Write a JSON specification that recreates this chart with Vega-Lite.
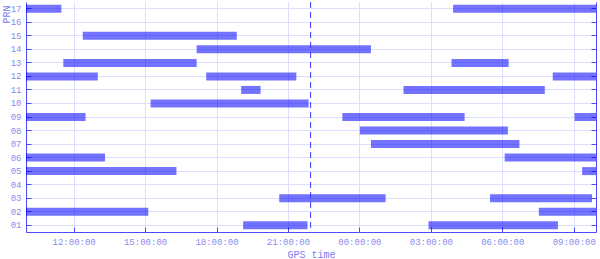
{
  "$schema": "https://vega.github.io/schema/vega-lite/v6.json",
  "width": 570,
  "height": 230,
  "autosize": "none",
  "padding": {"left": 26, "top": 2, "right": 4, "bottom": 27},
  "config": {
    "view": {"stroke": null},
    "font": "Liberation Mono",
    "axis": {
      "labelFont": "Liberation Mono",
      "titleFont": "Liberation Mono",
      "labelColor": "#8a8af0",
      "titleColor": "#7c7cf0",
      "domainColor": "#4a4aff",
      "tickColor": "#4a4aff",
      "gridColor": "#dedeff",
      "labelFontSize": 9,
      "titleFontSize": 10,
      "titleFontWeight": "normal"
    }
  },
  "datasets": {
    "passes": [
      {"prn": "17", "start": "2024-01-01T10:00:00", "end": "2024-01-01T11:29:00"},
      {"prn": "17", "start": "2024-01-02T03:56:00", "end": "2024-01-02T09:56:00"},
      {"prn": "15", "start": "2024-01-01T12:23:00", "end": "2024-01-01T18:51:00"},
      {"prn": "14", "start": "2024-01-01T17:10:00", "end": "2024-01-02T00:29:00"},
      {"prn": "13", "start": "2024-01-01T11:34:00", "end": "2024-01-01T17:10:00"},
      {"prn": "13", "start": "2024-01-02T03:52:00", "end": "2024-01-02T06:16:00"},
      {"prn": "12", "start": "2024-01-01T10:00:00", "end": "2024-01-01T13:01:00"},
      {"prn": "12", "start": "2024-01-01T17:34:00", "end": "2024-01-01T21:21:00"},
      {"prn": "12", "start": "2024-01-02T08:07:00", "end": "2024-01-02T09:56:00"},
      {"prn": "11", "start": "2024-01-01T19:02:00", "end": "2024-01-01T19:51:00"},
      {"prn": "11", "start": "2024-01-02T01:51:00", "end": "2024-01-02T07:47:00"},
      {"prn": "10", "start": "2024-01-01T15:14:00", "end": "2024-01-01T21:52:00"},
      {"prn": "09", "start": "2024-01-01T10:00:00", "end": "2024-01-01T12:30:00"},
      {"prn": "09", "start": "2024-01-01T23:17:00", "end": "2024-01-02T04:25:00"},
      {"prn": "09", "start": "2024-01-02T09:02:00", "end": "2024-01-02T09:56:00"},
      {"prn": "08", "start": "2024-01-02T00:01:00", "end": "2024-01-02T06:14:00"},
      {"prn": "07", "start": "2024-01-02T00:29:00", "end": "2024-01-02T06:43:00"},
      {"prn": "06", "start": "2024-01-01T10:00:00", "end": "2024-01-01T13:19:00"},
      {"prn": "06", "start": "2024-01-02T06:06:00", "end": "2024-01-02T09:56:00"},
      {"prn": "05", "start": "2024-01-01T10:00:00", "end": "2024-01-01T16:19:00"},
      {"prn": "05", "start": "2024-01-02T09:21:00", "end": "2024-01-02T09:56:00"},
      {"prn": "03", "start": "2024-01-01T20:38:00", "end": "2024-01-02T01:06:00"},
      {"prn": "03", "start": "2024-01-02T05:29:00", "end": "2024-01-02T09:46:00"},
      {"prn": "02", "start": "2024-01-01T10:00:00", "end": "2024-01-01T15:08:00"},
      {"prn": "02", "start": "2024-01-02T07:32:00", "end": "2024-01-02T09:56:00"},
      {"prn": "01", "start": "2024-01-01T19:07:00", "end": "2024-01-01T21:49:00"},
      {"prn": "01", "start": "2024-01-02T02:54:00", "end": "2024-01-02T08:20:00"}
    ],
    "now": [{"t": "2024-01-01T21:57:00"}]
  },
  "resolve": {"axis": {"y": "independent"}},
  "layer": [
    {
      "data": {"name": "passes"},
      "mark": {"type": "bar", "height": 8, "color": "#0000ff", "fillOpacity": 0.55, "clip": true},
      "encoding": {
        "x": {
          "field": "start", "type": "temporal", "title": "GPS time",
          "scale": {"domain": [
            {"year": 2024, "month": 1, "date": 1, "hours": 10, "minutes": 0},
            {"year": 2024, "month": 1, "date": 2, "hours": 9, "minutes": 56}
          ]},
          "axis": {
            "format": "%H:%M:%S",
            "tickCount": 8,
            "tickSize": -5,
            "labelPadding": 10,
            "titlePadding": 3,
            "grid": true
          }
        },
        "x2": {"field": "end"},
        "y": {
          "field": "prn", "type": "nominal", "title": "PRN",
          "scale": {"domain": ["17","16","15","14","13","12","11","10","09","08","07","06","05","04","03","02","01"]},
          "axis": {
            "bandPosition": 0.5,
            "tickSize": -5,
            "labelPadding": 10,
            "titleX": -20,
            "titleY": 3,
            "titleAlign": "right",
            "titleBaseline": "middle",
            "titleAngle": 270,
            "grid": true
          }
        }
      }
    },
    {
      "data": {"name": "passes"},
      "mark": {"type": "point", "opacity": 0},
      "encoding": {
        "x": {"field": "start", "type": "temporal"},
        "y": {
          "field": "prn", "type": "nominal",
          "axis": {"orient": "right", "labels": false, "title": null, "tickSize": -5, "grid": false, "bandPosition": 0.5}
        }
      }
    },
    {
      "data": {"name": "now"},
      "mark": {"type": "rule", "color": "#3b3bff", "strokeDash": [6, 4], "strokeWidth": 1},
      "encoding": {"x": {"field": "t", "type": "temporal"}}
    }
  ]
}
